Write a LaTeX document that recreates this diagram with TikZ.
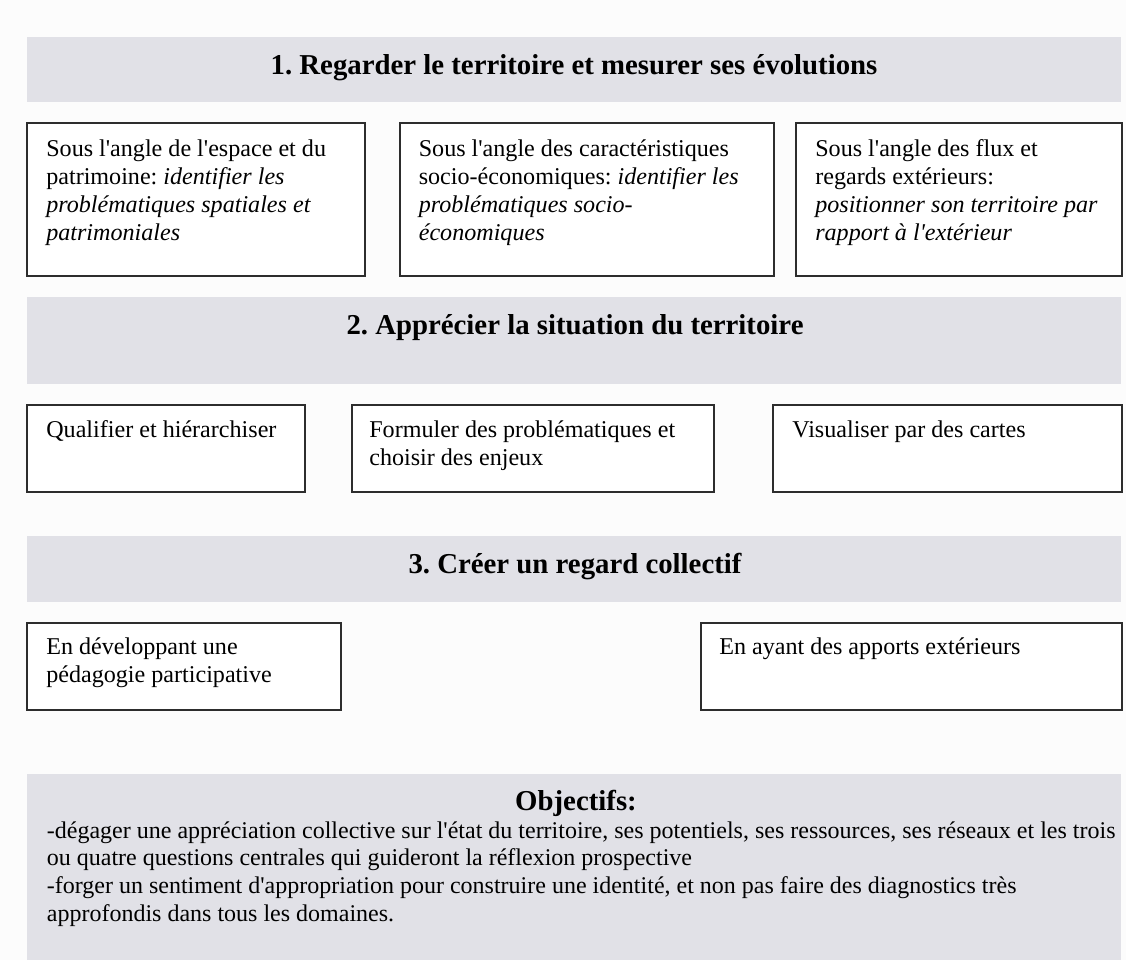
\documentclass[tikz,border=0pt]{standalone}
\usepackage{fontspec}
\setmainfont{Liberation Serif}[Ligatures=TeXOff]
\usepackage{xcolor}
\usepackage{tikz}
\usetikzlibrary{positioning,fit,calc}
\definecolor{bandgray}{RGB}{225,225,231}
\definecolor{pagewhite}{RGB}{252,252,252}
\definecolor{framegray}{RGB}{45,45,45}
\tikzset{
  band/.style={fill=bandgray, draw=none, inner sep=0pt},
  cellbox/.style={draw=framegray, line width=1.8pt, fill=white, inner sep=0pt},
  bandtitle/.style={font=\fontsize{28.8}{34}\selectfont\bfseries, anchor=base, inner sep=0pt},
  % anchored on top of the first line; each text starts with a strut (19.6pt high)
  boxtext/.style={font=\fontsize{24.1}{28}\selectfont, align=left, anchor=north west, inner sep=0pt},
  objtext/.style={boxtext, font=\fontsize{24}{27.8}\selectfont}
}
\frenchspacing

\begin{document}
\begin{tikzpicture}[x=1pt, y=-1pt]
  \fill[pagewhite] (0,0) rectangle (1126,960);
  \useasboundingbox (0,0) rectangle (1126,960);

  % grey bands
  \node[band, fit={(27,37) (1121,102)}] (b1) {};
  \node[band, fit={(27,297) (1121,384)}] (b2) {};
  \node[band, fit={(27,536) (1121,602)}] (b3) {};
  \node[band, fit={(27,774) (1121,960)}] (obj) {};

  \node[bandtitle] (t1) at (574,75) {1. Regarder le territoire et mesurer ses évolutions};
  \node[bandtitle] (t2) at (575,334) {2. Apprécier la situation du territoire};
  \node[bandtitle] (t3) at (575,573) {3. Créer un regard collectif};

  % first row
  \node[cellbox, fit={(27,123) (365,276)}] (a1) {};
  \node[cellbox, fit={(400,123) (774,276)}] (a2) {};
  \node[cellbox, fit={(796,123) (1122,276)}] (a3) {};
  \node[boxtext] (a1t) at ([xshift=20,yshift=-14.4]a1.north west)
    {\strut Sous l'angle de l'espace et du\\patrimoine: \textit{identifier les}\\\textit{problématiques spatiales et}\\\textit{patrimoniales}};
  \node[boxtext] (a2t) at ([xshift=19.5,yshift=-14.4]a2.north west)
    {\strut Sous l'angle des caractéristiques\\socio-économiques: \textit{identifier les}\\\textit{problématiques socio-}\\\textit{économiques}};
  \node[boxtext] (a3t) at ([xshift=20,yshift=-14.4]a3.north west)
    {\strut Sous l'angle des flux et\\regards extérieurs:\\\textit{positionner son territoire par}\\\textit{rapport à l'extérieur}};

  % second row
  \node[cellbox, fit={(27,405) (305,492)}] (c1) {};
  \node[cellbox, fit={(352,405) (714,492)}] (c2) {};
  \node[cellbox, fit={(773,405) (1122,492)}] (c3) {};
  \node[boxtext] (c1t) at ([xshift=20,yshift=-13.4]c1.north west) {\strut Qualifier et hiérarchiser};
  \node[boxtext] (c2t) at ([xshift=18,yshift=-13.4]c2.north west) {\strut Formuler des problématiques et\\choisir des enjeux};
  \node[boxtext] (c3t) at ([xshift=20,yshift=-13.4]c3.north west) {\strut Visualiser par des cartes};

  % third row
  \node[cellbox, fit={(27,623) (341,710)}] (d1) {};
  \node[cellbox, fit={(701,623) (1122,710)}] (d2) {};
  \node[boxtext] (d1t) at ([xshift=20,yshift=-12.4]d1.north west) {\strut En développant une\\pédagogie participative};
  \node[boxtext] (d2t) at ([xshift=19,yshift=-12.4]d2.north west) {\strut En ayant des apports extérieurs};

  % objectives
  \node[bandtitle] (objt) at (576,810) {Objectifs:};
  \node[objtext] (objb) at (46.7,818.5)
    {\strut -dégager une appréciation collective sur l'état du territoire, ses potentiels, ses ressources, ses réseaux et les trois\\
     ou quatre questions centrales qui guideront la réflexion prospective\\
     -forger un sentiment d'appropriation pour construire une identité, et non pas faire des diagnostics très\\
     approfondis dans tous les domaines.};
\end{tikzpicture}
\end{document}
